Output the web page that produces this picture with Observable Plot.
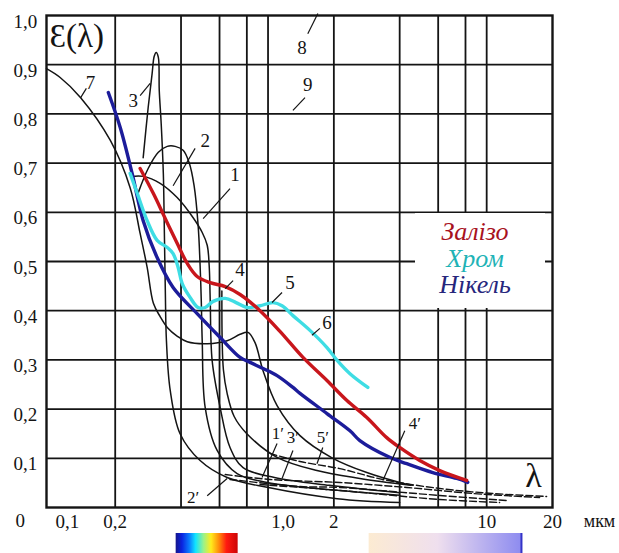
<!DOCTYPE html>
<html><head><meta charset="utf-8">
<script src="https://cdn.jsdelivr.net/npm/d3@7"></script>
<script src="https://cdn.jsdelivr.net/npm/@observablehq/plot@0.6"></script>
<style>
body{margin:0;background:#fff;}
#wrap{position:relative;width:619px;height:553px;overflow:hidden;background:#fff;}
#legend{position:absolute;left:415px;top:213px;width:120px;height:89px;padding:6px 10px 0 0;box-sizing:content-box;background:#fff;
 font-family:"Liberation Serif","Times New Roman","DejaVu Serif",serif;font-style:italic;font-size:26px;line-height:26.5px;text-align:center;}
</style></head><body><div id="wrap"></div>
<script>
// ---- axis ticks ----
const xTickVals = [0.1,0.2,0.4,0.6,0.8,1,2,4,6,8,10,20];
const xTickText = ["0,1","0,2","0,4","0,6","0,8","1,0","2","4","6","8","10","20"];
const yTickVals = [0,0.1,0.2,0.3,0.4,0.5,0.6,0.7,0.8,0.9,1];
const yTickText = ["0","0,1","0,2","0,3","0,4","0,5","0,6","0,7","0,8","0,9","1,0"];
const xGrid = [0.2,0.4,0.6,0.8,1,2,4,6,8,10];
const yGrid = [0.1,0.2,0.3,0.4,0.5,0.6,0.7,0.8,0.9];

// ---- coloured series (λ, ε) ----
const ironLam = [0.26,0.299,0.339,0.384,0.427,0.474,0.544,0.637,0.745,0.919,1.134,1.445,1.86,2.295,2.83,3.49,4.0,4.94,6.1,8.1];
const ironEps = [0.689,0.638,0.587,0.537,0.496,0.4695,0.457,0.449,0.433,0.40,0.358,0.305,0.258,0.2175,0.183,0.142,0.122,0.0955,0.075,0.055];
const chromLam = [0.234,0.2525,0.28,0.311,0.346,0.368,0.388,0.405,0.44,0.479,0.516,0.561,0.637,0.714,0.80,0.919,1.054,1.159,1.30,1.555,1.86,2.07,2.37,2.86];
const chromEps = [0.679,0.638,0.583,0.543,0.5285,0.516,0.488,0.455,0.427,0.4065,0.4065,0.419,0.425,0.4165,0.4065,0.41,0.4165,0.41,0.39,0.36,0.325,0.299,0.272,0.244];
const nickelLam = [0.186,0.211,0.239,0.2685,0.311,0.368,0.474,0.604,0.745,0.828,0.949,1.10,1.30,1.40,1.86,2.37,2.63,3.6,4.31,5.67,7.3,8.19];
const nickelEps = [0.8435,0.772,0.679,0.583,0.508,0.447,0.394,0.3455,0.305,0.295,0.2825,0.268,0.244,0.232,0.191,0.156,0.136,0.102,0.089,0.071,0.059,0.051];

// ---- black curves ----
const c7Lam = [0.097,0.112,0.139,0.19,0.234,0.26,0.28,0.299,0.321,0.346,0.385,0.427,0.527,0.65,0.745,0.81,0.872,0.949,1.10,1.40,1.98,2.83,4.0,4.6];
const c7Eps = [0.892,0.874,0.833,0.746,0.650,0.557,0.488,0.415,0.388,0.366,0.348,0.337,0.333,0.339,0.352,0.356,0.335,0.278,0.207,0.146,0.10,0.071,0.051,0.045];
const c3Lam = [0.2685,0.283,0.295,0.3016,0.308,0.315,0.318,0.3246,0.332,0.335,0.339,0.343,0.357,0.396,0.489,0.65,0.99,2.07,4.0];
const c3Eps = [0.711,0.813,0.882,0.917,0.925,0.915,0.848,0.78,0.679,0.583,0.441,0.339,0.238,0.150,0.0955,0.061,0.041,0.018,0.010];
const c2Lam = [0.255,0.283,0.315,0.346,0.376,0.409,0.4355,0.459,0.479,0.489,0.495,0.50,0.516,0.585,0.722,0.99,2.07,4.0];
const c2Eps = [0.640,0.689,0.722,0.734,0.734,0.726,0.701,0.654,0.573,0.492,0.421,0.339,0.203,0.116,0.069,0.051,0.035,0.025];
const c1Lam = [0.239,0.2685,0.321,0.384,0.4545,0.50,0.527,0.538,0.544,0.555,0.604,0.67,0.769,1.07,1.91,4.0];
const c1Eps = [0.673,0.673,0.659,0.630,0.589,0.559,0.533,0.492,0.421,0.299,0.203,0.122,0.081,0.061,0.045,0.030];
const c4Lam = [0.615,0.617,0.625,0.65,0.70,0.80,1.10,1.674,2.63,4.5];
const c4Eps = [0.44,0.339,0.28,0.232,0.185,0.150,0.102,0.075,0.059,0.045];

// ---- dashed curves (primed) ----
const dALam = [1.02,1.40,2.13,3.35,6.1,10.65,18.8];
const dAEps = [0.110,0.0935,0.079,0.057,0.0386,0.0285,0.0224];
const dBLam = [0.637,1.02,2.13,4.31,8.63,17.46];
const dBEps = [0.067,0.057,0.0508,0.0407,0.0285,0.0203];
const dCLam = [0.67,1.40,2.13,6.1,12.34];
const dCEps = [0.057,0.0427,0.0407,0.0244,0.0142];
const dDLam = [0.919,2.13,6.1,11.46];
const dDEps = [0.0467,0.0346,0.0163,0.0102];

// ---- curve labels ----
const numText = ["7","3","2","1","4","5","6","8","9"];
const numLam = [0.154,0.242,0.516,0.707,0.745,1.26,1.86,1.43,1.52];
const numEps = [0.864,0.827,0.746,0.675,0.482,0.457,0.376,0.935,0.858];
const numLeadX1 = [0.1476,0.26,0.464,0.67,0.692,1.159,1.727,1.52,1.476];
const numLeadY1 = [0.852,0.837,0.730,0.648,0.461,0.437,0.364,0.963,0.833];
const numLeadX2 = [0.139,0.289,0.368,0.505,0.637,1.043,1.588,1.69,1.30];
const numLeadY2 = [0.833,0.862,0.654,0.587,0.445,0.4167,0.35,1.004,0.807];
const primeText = ["1′","3′","2′","5′","4′"];
const primeLam = [1.11,1.30,0.4545,1.78,4.69];
const primeEps = [0.150,0.142,0.020,0.142,0.171];
const primeLeadX1 = [1.10,1.30,0.527,1.78,4.22];
const primeLeadY1 = [0.130,0.116,0.024,0.122,0.156];
const primeLeadX2 = [0.939,1.159,0.65,1.674,3.35];
const primeLeadY2 = [0.061,0.059,0.059,0.089,0.055];

// spectral bands shown under the axis (µm)
const visibleBand = [0.38, 0.73];
const infraredBand = [2.9, 14.5];

// ---- build tables ----
const toRows = (id, lam, eps) => lam.map((l, i) => ({id, lam: l, eps: eps[i]}));
const blackRows = [
  ...toRows("7", c7Lam, c7Eps), ...toRows("3", c3Lam, c3Eps), ...toRows("2", c2Lam, c2Eps),
  ...toRows("1", c1Lam, c1Eps), ...toRows("4", c4Lam, c4Eps)
];
const dashRows = [
  ...toRows("A", dALam, dAEps), ...toRows("B", dBLam, dBEps),
  ...toRows("C", dCLam, dCEps), ...toRows("D", dDLam, dDEps)
];
const numRows = numText.map((t, i) => ({t, x: numLam[i], y: numEps[i], x1: numLeadX1[i], y1: numLeadY1[i], x2: numLeadX2[i], y2: numLeadY2[i]}));
const primeRows = primeText.map((t, i) => ({t, x: primeLam[i], y: primeEps[i], x1: primeLeadX1[i], y1: primeLeadY1[i], x2: primeLeadX2[i], y2: primeLeadY2[i]}));

const serif = "Liberation Serif, Times New Roman, DejaVu Serif, serif";
const ink = "#141414";
const fmtX = d => xTickText[xTickVals.indexOf(d)];
const fmtY = d => yTickText[yTickVals.indexOf(d)];
const axisFont = {fontFamily: serif, fontSize: 19};

const chart = Plot.plot({
  width: 619, height: 553,
  marginLeft: 46, marginRight: 67, marginTop: 15, marginBottom: 46,
  x: {type: "log", domain: [0.097, 20]},
  y: {domain: [0, 1]},
  style: {fontFamily: serif, fontSize: "19px", background: "#fff", color: ink},
  marks: [
    Plot.ruleX(xGrid, {stroke: ink, strokeWidth: 1.8}),
    Plot.ruleY(yGrid, {stroke: ink, strokeWidth: 1.8}),
    Plot.frame({stroke: ink, strokeWidth: 2.4}),
    Plot.axisX(xTickVals.filter(v => v !== 0.1 && v !== 1), {tickSize: 0, tickPadding: 7, tickFormat: fmtX, ...axisFont}),
    Plot.axisX([0.1], {tickSize: 0, tickPadding: 7, tickFormat: fmtX, dx: 18, ...axisFont}),
    Plot.axisX([1], {tickSize: 0, tickPadding: 7, tickFormat: fmtX, dx: 15, ...axisFont}),
    Plot.axisY(yTickVals.filter(v => v > 0), {tickSize: 0, tickPadding: 33, textAnchor: "start", dy: 6, tickFormat: fmtY, ...axisFont}),
    Plot.axisY([0], {tickSize: 0, tickPadding: 31, textAnchor: "start", dy: 13, tickFormat: fmtY, ...axisFont}),
    Plot.line(dashRows, {x: "lam", y: "eps", z: "id", stroke: ink, strokeWidth: 1.4, strokeDasharray: "7,3", curve: "catmull-rom"}),
    Plot.line(blackRows, {x: "lam", y: "eps", z: "id", stroke: ink, strokeWidth: 1.5, curve: "catmull-rom"}),
    Plot.line(toRows("Нікель", nickelLam, nickelEps), {x: "lam", y: "eps", stroke: "#1c1c9a", strokeWidth: 3.4, curve: "catmull-rom"}),
    Plot.line(toRows("Хром", chromLam, chromEps), {x: "lam", y: "eps", stroke: "#3fdde4", strokeWidth: 3.4, curve: "catmull-rom"}),
    Plot.line(toRows("Залізо", ironLam, ironEps), {x: "lam", y: "eps", stroke: "#c8161c", strokeWidth: 3.4, curve: "catmull-rom"}),
    Plot.link(numRows, {x1: "x1", y1: "y1", x2: "x2", y2: "y2", stroke: ink, strokeWidth: 1.2}),
    Plot.link(primeRows, {x1: "x1", y1: "y1", x2: "x2", y2: "y2", stroke: ink, strokeWidth: 1.2}),
    Plot.text(numRows, {x: "x", y: "y", text: "t", fontSize: 19, fontFamily: serif, fill: ink}),
    Plot.text(primeRows, {x: "x", y: "y", text: "t", fontSize: 17, fontFamily: serif, fill: ink}),
    Plot.text(["Ɛ(λ)"], {frameAnchor: "top-left", dx: 3, dy: 21, textAnchor: "start", lineAnchor: "middle", fontSize: 33, fontFamily: serif, fill: ink}),
    Plot.text(["λ"], {frameAnchor: "bottom-right", dx: -19, dy: -31, textAnchor: "middle", lineAnchor: "middle", fontSize: 34, fontFamily: serif, fill: ink}),
    Plot.text(["мкм"], {frameAnchor: "bottom-right", dx: 47, dy: 14, textAnchor: "middle", lineAnchor: "middle", fontSize: 18, fontFamily: serif, fill: ink})
  ]
});

// spectral colour bars, positioned by the x scale
const sx = chart.scale("x"), sy = chart.scale("y");
const svg = d3.select(chart);
const defs = svg.append("defs");
const rg = defs.append("linearGradient").attr("id", "rainbowBar");
[[0,"#16168a"],[0.1,"#0a22e0"],[0.22,"#0a7cff"],[0.32,"#10e4ff"],[0.45,"#9af28a"],[0.57,"#ffec1c"],[0.7,"#ff8a0a"],[0.82,"#ff1a10"],[1,"#cc0606"]]
  .forEach(([o,c]) => rg.append("stop").attr("offset", o).attr("stop-color", c));
const ig = defs.append("linearGradient").attr("id", "irBar");
[[0,"#fcebd2"],[0.45,"#efdfee"],[1,"#8d8bf0"]]
  .forEach(([o,c]) => ig.append("stop").attr("offset", o).attr("stop-color", c));
const barTop = sy.apply(0) + 26;
svg.append("rect").attr("x", sx.apply(visibleBand[0])).attr("y", barTop)
  .attr("width", sx.apply(visibleBand[1]) - sx.apply(visibleBand[0])).attr("height", 22).attr("fill", "url(#rainbowBar)");
svg.append("rect").attr("x", sx.apply(infraredBand[0])).attr("y", barTop)
  .attr("width", sx.apply(infraredBand[1]) - sx.apply(infraredBand[0])).attr("height", 22).attr("fill", "url(#irBar)");
svg.append("line").attr("x1", sx.apply(infraredBand[1])).attr("x2", sx.apply(infraredBand[1]))
  .attr("y1", barTop).attr("y2", barTop + 22).attr("stroke", "#3434c8").attr("stroke-width", 2);

const wrap = document.getElementById("wrap");
wrap.appendChild(chart);
const legend = document.createElement("div");
legend.id = "legend";
const legendItems = [["Залізо", "#a8121e"], ["Хром", "#1fb3b6"], ["Нікель", "#26267c"]];
legendItems.forEach(([t, c]) => {
  const d = document.createElement("div");
  d.textContent = t; d.style.color = c;
  legend.appendChild(d);
});
wrap.appendChild(legend);
</script></body></html>
